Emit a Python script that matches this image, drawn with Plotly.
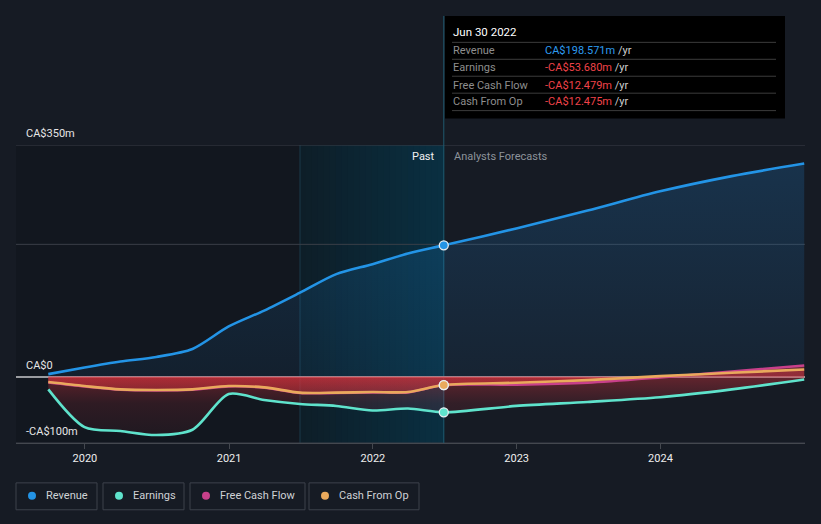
import plotly.graph_objects as go
import pandas as pd

# ---------------- data ----------------
rev_dates = ["2019-09-30", "2019-12-31", "2020-03-31", "2020-06-30", "2020-09-30",
             "2020-12-31", "2021-03-31", "2021-06-30", "2021-09-30", "2021-12-31", "2022-03-31",
             "2022-06-30", "2022-12-31", "2023-06-30", "2023-12-31", "2024-06-30", "2024-12-31"]
revenue = [4, 14, 23, 30, 42, 76, 100, 127, 155, 170, 186, 198.571, 224, 251, 280, 303, 322]

earn_dates = ["2019-09-30", "2019-12-31", "2020-03-31", "2020-06-30", "2020-09-30",
              "2020-12-31", "2021-03-31", "2021-06-30", "2021-09-30", "2021-12-31", "2022-03-31",
              "2022-06-30", "2022-12-31", "2023-06-30", "2023-12-31", "2024-06-30", "2024-12-31"]
earnings = [-19, -76, -82, -88, -80, -26, -35, -41, -44, -51, -48, -53.68, -44, -38, -31, -19, -4]

cash_dates = ["2019-09-30", "2019-12-31", "2020-03-31", "2020-06-30", "2020-09-30", "2020-12-31",
              "2021-03-31", "2021-06-30", "2021-09-30", "2021-12-31", "2022-03-31", "2022-06-30",
              "2022-12-31", "2023-06-30", "2023-12-31", "2024-06-30", "2024-12-31"]
free_cash_flow = [-8.5, -14.5, -19.5, -20.5, -19.5, -14.5, -16.5, -24.5, -24.5, -23.5, -23.5, -12.479,
                  -12, -9, -1, 8, 17]
cash_from_op = [-8, -14, -19, -20, -19, -14, -16, -24, -24, -23, -23, -12.475,
                -9, -5, 1, 6, 11]

year_ticks = ["2020-01-01", "2021-01-01", "2022-01-01", "2023-01-01", "2024-01-01"]
year_labels = ["2020", "2021", "2022", "2023", "2024"]
y_labels = {350: "CA$350m", 0: "CA$0", -100: "-CA$100m"}
y_grid = [-100, 200, 350]

past_start = "2021-06-30"
now_date = "2022-06-30"

names = ["Revenue", "Earnings", "Free Cash Flow", "Cash From Op"]
colors = ["#2394e6", "#5fe3cc", "#c8408a", "#e9a95c"]

tip_date = "Jun 30 2022"
tip_values = ["CA$198.571m", "-CA$53.680m", "-CA$12.479m", "-CA$12.475m"]

# ---------------- layout helpers ----------------
W, H = 821, 524
L, R, T, B = 16, 805, 144.5, 443.5


def px(x):
    return (x - L) / (R - L)


def py(y):
    return (B - y) / (B - T)


BG = "#161b24"
FONT = "Roboto, Arial, sans-serif"

fig = go.Figure()

red_grad = dict(type="vertical", start=-100, stop=0,
                colorscale=[[0, "rgba(190,45,55,0.06)"], [0.6, "rgba(200,48,58,0.16)"],
                            [1, "rgba(215,50,60,0.40)"]])

# revenue
fig.add_trace(go.Scatter(
    x=rev_dates, y=revenue, mode="lines", name=names[0],
    line=dict(color=colors[0], width=2.6, shape="spline", smoothing=0.8),
    fill="tozeroy",
    fillgradient=dict(type="vertical", start=0, stop=350,
                      colorscale=[[0, "rgba(33,150,243,0.07)"], [1, "rgba(33,150,243,0.20)"]]),
    hoverinfo="skip"))

fig.add_trace(go.Scatter(
    x=earn_dates, y=earnings, mode="lines", name=names[1],
    line=dict(color=colors[1], width=2.6, shape="spline", smoothing=0.8),
    fill="tozeroy", fillgradient=red_grad, hoverinfo="skip"))

fig.add_trace(go.Scatter(
    x=cash_dates, y=free_cash_flow, mode="lines", name=names[2],
    line=dict(color=colors[2], width=2.6, shape="spline", smoothing=0.8),
    fill="tozeroy", fillgradient=red_grad, hoverinfo="skip"))

fig.add_trace(go.Scatter(
    x=cash_dates, y=cash_from_op, mode="lines", name=names[3],
    line=dict(color=colors[3], width=2.6, shape="spline", smoothing=0.8),
    fill="tozeroy", fillgradient=red_grad, hoverinfo="skip"))

# markers at "now"
i_r = rev_dates.index(now_date)
i_e = earn_dates.index(now_date)
i_c = cash_dates.index(now_date)
fig.add_trace(go.Scatter(
    x=[now_date, now_date, now_date, now_date],
    y=[revenue[i_r], earnings[i_e], free_cash_flow[i_c], cash_from_op[i_c]],
    mode="markers",
    marker=dict(size=9, color=[colors[0], colors[1], colors[2], colors[3]],
                line=dict(color="#e8eef2", width=1.3)),
    hoverinfo="skip", showlegend=False))

shapes = []
# dark area before past band
shapes.append(dict(type="rect", xref="x", yref="paper", x0="2019-01-01", x1=past_start, y0=0, y1=1,
                   fillcolor="rgba(5,8,12,0.22)", line=dict(width=0), layer="below"))
# past band gradient
ps, pe = pd.Timestamp(past_start), pd.Timestamp(now_date)
n = 24
span = (pe - ps) / n
for k in range(n):
    t = (k + 0.5) / n
    r = int(14 + (10 - 14) * t)
    g = int(30 + (48 - 30) * t)
    b = int(40 + (66 - 40) * t)
    shapes.append(dict(type="rect", xref="x", yref="paper",
                       x0=ps + span * k, x1=ps + span * (k + 1) + pd.Timedelta(days=1),
                       y0=0, y1=1, fillcolor=f"rgb({r},{g},{b})", line=dict(width=0), layer="below"))
shapes.append(dict(type="line", xref="x", yref="paper", x0=past_start, x1=past_start, y0=0, y1=1,
                   line=dict(color="#1b3b4b", width=1), layer="below"))
# grid lines
for gv in y_grid:
    shapes.append(dict(type="line", xref="paper", yref="y", x0=0, x1=1, y0=gv, y1=gv,
                       line=dict(color="#3a3f48", width=1), layer="below"))
# tooltip vertical line
shapes.append(dict(type="line", xref="x", yref="paper", x0=now_date, x1=now_date, y0=0, y1=py(15),
                   line=dict(color="#1f5a6e", width=1), layer="below"))
# tooltip box
shapes.append(dict(type="rect", xref="paper", yref="paper", x0=px(445), x1=px(785), y0=py(118), y1=py(15),
                   fillcolor="#000000", line=dict(width=0), layer="above"))
for sy in [41.5, 58.5, 75.5, 92.5, 110]:
    shapes.append(dict(type="line", xref="paper", yref="paper", x0=px(452), x1=px(776), y0=py(sy), y1=py(sy),
                       line=dict(color="#3c3c3c", width=1), layer="above"))

annotations = []
# y labels
for v, txt in y_labels.items():
    annotations.append(dict(xref="paper", yref="y", x=px(24), y=v, yshift=3, text=txt, showarrow=False,
                            xanchor="left", yanchor="bottom", font=dict(size=11, color="#e6e6e6", family=FONT)))
annotations.append(dict(xref="paper", yref="paper", x=px(437), y=py(156), text="Past", showarrow=False,
                        xanchor="right", yanchor="middle", font=dict(size=11, color="#f0f0f0", family=FONT)))
annotations.append(dict(xref="paper", yref="paper", x=px(452), y=py(156), text="Analysts Forecasts",
                        showarrow=False, xanchor="left", yanchor="middle",
                        font=dict(size=11, color="#8d939b", family=FONT)))
# tooltip text
annotations.append(dict(xref="paper", yref="paper", x=px(451), y=py(31), text=tip_date, showarrow=False,
                        xanchor="left", yanchor="middle", font=dict(size=11.5, color="#ffffff", family=FONT)))
row_y = [49.3, 66.7, 84.3, 101]
for nm, val, yy in zip(names, tip_values, row_y):
    vc = "#2d9cf0" if not val.startswith("-") else "#f0434a"
    annotations.append(dict(xref="paper", yref="paper", x=px(451), y=py(yy), text=nm, showarrow=False,
                            xanchor="left", yanchor="middle", font=dict(size=11, color="#8e8e8e", family=FONT)))
    annotations.append(dict(xref="paper", yref="paper", x=px(543), y=py(yy),
                            text=f"<span style='color:{vc}'>{val}</span> <span style='color:#cfcfcf'>/yr</span>",
                            showarrow=False, xanchor="left", yanchor="middle",
                            font=dict(size=11, color=vc, family=FONT)))

# legend boxes
boxes = [(16, 97), (103, 184), (190, 305), (309, 419)]
for (x0, x1), nm, c in zip(boxes, names, colors):
    shapes.append(dict(type="rect", xref="paper", yref="paper", x0=px(x0), x1=px(x1), y0=py(510.5), y1=py(483.5),
                       fillcolor="rgba(0,0,0,0)", line=dict(color="#3d424b", width=1)))
    shapes.append(dict(type="circle", xref="paper", yref="paper", x0=px(x0 + 12), x1=px(x0 + 20),
                       y0=py(500.5), y1=py(492.5), fillcolor=c, line=dict(width=0)))
    annotations.append(dict(xref="paper", yref="paper", x=px(x0 + 28), y=py(496.5), text=nm, showarrow=False,
                            xanchor="left", yanchor="middle", font=dict(size=11, color="#cfd2d6", family=FONT)))

fig.update_layout(
    width=W, height=H,
    margin=dict(l=L, r=W - R, t=T, b=H - B),
    paper_bgcolor=BG, plot_bgcolor=BG,
    showlegend=False,
    shapes=shapes, annotations=annotations,
    font=dict(family=FONT, color="#e6e6e6", size=11),
    xaxis=dict(type="date", range=["2019-07-10", "2025-01-02"], tickvals=year_ticks, ticktext=year_labels,
               showgrid=False, zeroline=False, showline=True, linecolor="#44484f", linewidth=1,
               ticks="outside", ticklen=5, tickcolor="#44484f", tickfont=dict(size=11, color="#eeeeee"),
               fixedrange=True),
    yaxis=dict(range=[-100, 350], showgrid=False, showticklabels=False, zeroline=True,
               zerolinecolor="#9a9ca0", zerolinewidth=1.5, fixedrange=True),
)

fig.write_html("out.html", config={"displayModeBar": False},
               post_script="document.body.style.margin='0';document.body.style.background='%s';" % BG)
